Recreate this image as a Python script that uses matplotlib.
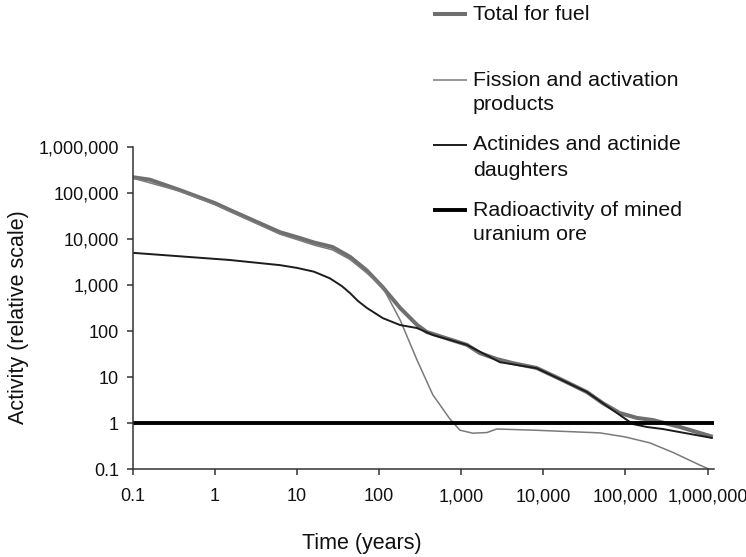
import numpy as np
import matplotlib
matplotlib.use("Agg")
import matplotlib.pyplot as plt
from matplotlib.lines import Line2D
from matplotlib.ticker import FixedLocator, FuncFormatter, NullLocator

plt.rcParams['font.family'] = ['Liberation Sans', 'DejaVu Sans']

# time after discharge (years) and relative activity for each curve
t_total = [0.1, 0.16, 0.37, 1.0, 1.5, 6.2, 10.8, 16, 27, 44, 70, 110, 180, 290, 380,
           1170, 1690, 2700, 4250, 8300, 17000, 34000, 53000, 85000, 138000,
           216000, 460000, 1160000]
a_total = [2.2e5, 1.95e5, 1.16e5, 6.0e4, 4.3e4, 1.4e4, 1.05e4, 8.4e3, 6.7e3, 4.1e3,
           2.1e3, 900, 316, 135, 95,
           50, 33, 24.6, 20, 15.7, 8.6, 4.7, 2.7, 1.65, 1.29,
           1.16, 0.82, 0.5]

t_fission = [0.1, 0.37, 1.0, 1.5, 6.2, 10.8, 16, 27, 44, 70, 110, 180, 290, 450,
             725, 960, 1380, 2050, 2700, 7450, 48800, 98000, 198000, 378000,
             805000, 1160000]
a_fission = [2.1e5, 1.1e5, 5.6e4, 4.0e4, 1.27e4, 9.3e3, 7.4e3, 5.8e3, 3.6e3,
             1.85e3, 906, 173, 23, 4.1, 1.23,
             0.70, 0.60, 0.62, 0.74, 0.70, 0.61, 0.50, 0.37, 0.23, 0.122,
             0.091]

t_actinide = [0.1, 1.5, 6.2, 10, 16, 25, 35, 44, 55, 71, 111, 179, 288, 450, 1170,
              2950, 8300, 17000, 34000, 53000, 85000, 123000, 182000, 285000,
              1160000]
a_actinide = [5000, 3500, 2700, 2350, 1950, 1400, 950, 670, 450, 316, 190, 135,
              116, 82, 50, 21,
              15.5, 8.5, 4.7, 2.7, 1.5, 0.95, 0.82, 0.74, 0.47]

t_ore = [0.1, 1.2e6]
a_ore = [1, 1]

labels = ['Total for fuel',
          'Fission and activation\nproducts',
          'Actinides and actinide\ndaughters',
          'Radioactivity of mined\nuranium ore']
colors = ['#6f6f6f', '#7a7a7a', '#1c1c1c', '#000000']
widths = [2.9, 1.1, 1.4, 2.8]

ticks = [0.1, 1, 10, 100, 1000, 10000, 100000, 1000000]

W, H = 746, 557
fig = plt.figure(figsize=(W / 100, H / 100), dpi=100)
ax = fig.add_axes([133 / W, 1 - 469 / H, 581 / W, 322 / H])

series = [(t_total, a_total), (t_fission, a_fission),
          (t_actinide, a_actinide), (t_ore, a_ore)]
for (t, a), c, lw in zip(series, colors, widths):
    ax.plot(t, a, color=c, lw=lw, solid_capstyle='butt', solid_joinstyle='round')

ax.set_xscale('log')
ax.set_yscale('log')
ax.set_xlim(0.1, 1.2e6)
ax.set_ylim(0.1, 1e6)


def fmt(v, pos=None):
    return '0.1' if v < 1 else f'{v:,.0f}'


for axis in (ax.xaxis, ax.yaxis):
    axis.set_major_locator(FixedLocator(ticks))
    axis.set_minor_locator(NullLocator())
    axis.set_major_formatter(FuncFormatter(fmt))

ax.tick_params(axis='both', direction='out', length=4, width=1.1,
               color='#333333', labelsize=13, labelcolor='#111111')
ax.tick_params(axis='x', pad=10)
ax.tick_params(axis='y', pad=6)

for side in ('top', 'right'):
    ax.spines[side].set_visible(False)
for side in ('left', 'bottom'):
    ax.spines[side].set_linewidth(1.1)
    ax.spines[side].set_color('#333333')

# axis titles placed by their centres
fig.text(362 / W, 1 - 543 / H, 'Time (years)', fontsize=15.5,
         ha='center', va='center', color='#111111')
fig.text(19 / W, 1 - 317 / H, 'Activity (relative scale)', fontsize=15.5,
         ha='center', va='center', rotation=90, color='#111111')

# legend drawn by hand so every entry keeps its own spacing
row_y = [14, 80, 145, 210]
for lab, c, lw, py in zip(labels, colors, widths, row_y):
    fig.add_artist(Line2D([433 / W, 467 / W], [1 - py / H, 1 - py / H],
                          color=c, lw=lw, solid_capstyle='butt'))
    for i, line in enumerate(lab.split('\n')):
        fig.text(473 / W, 1 - (py + 25 * i) / H, line, fontsize=15.4,
                 va='center', ha='left', color='#111111')

fig.savefig('out.png', dpi=100)
